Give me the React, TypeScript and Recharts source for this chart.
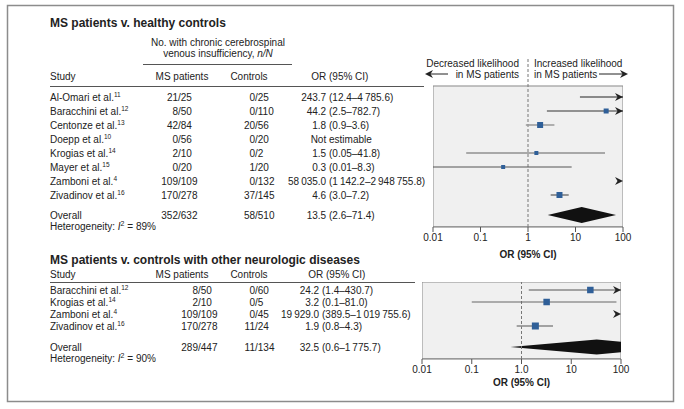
import React from "react";
import { ComposedChart, XAxis, YAxis, Scatter, Area, ReferenceLine, ReferenceArea } from "recharts";

const FONT = "'Liberation Sans', Arial, sans-serif";
const INK = "#222";

// MS patients v. healthy controls
const studiesA = ["Al-Omari", "Baracchini", "Centonze", "Doepp", "Krogias", "Mayer", "Zamboni", "Zivadinov"];
const refsA = ["11", "12", "13", "10", "14", "15", "4", "16"];
const msA = ["21/25", "8/50", "42/84", "0/56", "2/10", "0/20", "109/109", "170/278"];
const ctrlA = ["0/25", "0/110", "20/56", "0/20", "0/2", "1/20", "0/132", "37/145"];
const orTextA = [
  "243.7 (12.4–4\u2009785.6)",
  "44.2 (2.5–782.7)",
  "1.8 (0.9–3.6)",
  "Not estimable",
  "1.5 (0.05–41.8)",
  "0.3 (0.01–8.3)",
  "58\u2009035.0 (1\u2009142.2–2\u2009948\u2009755.8)",
  "4.6 (3.0–7.2)",
];
const estA = [243.7, 44.2, 1.8, null, 1.5, 0.3, 58035.0, 4.6];
const loA = [12.4, 2.5, 0.9, null, 0.05, 0.01, 1142.2, 3.0];
const hiA = [4785.6, 782.7, 3.6, null, 41.8, 8.3, 2948755.8, 7.2];
const overallA = { ms: "352/632", ctrl: "58/510", text: "13.5 (2.6–71.4)", est: 13.5, lo: 2.6, hi: 71.4, i2: "89%" };

// MS patients v. controls with other neurologic diseases
const studiesB = ["Baracchini", "Krogias", "Zamboni", "Zivadinov"];
const refsB = ["12", "14", "4", "16"];
const msB = ["8/50", "2/10", "109/109", "170/278"];
const ctrlB = ["0/60", "0/5", "0/45", "11/24"];
const orTextB = ["24.2 (1.4–430.7)", "3.2 (0.1–81.0)", "19\u2009929.0 (389.5–1\u2009019\u2009755.6)", "1.9 (0.8–4.3)"];
const estB = [24.2, 3.2, 19929.0, 1.9];
const loB = [1.4, 0.1, 389.5, 0.8];
const hiB = [430.7, 81.0, 1019755.6, 4.3];
const overallB = { ms: "289/447", ctrl: "11/134", text: "32.5 (0.6–1\u2009775.7)", est: 32.5, lo: 0.6, hi: 1775.7, i2: "90%" };

const ticks = [0.01, 0.1, 1, 10, 100];
const tickLabelsA = ["0.01", "0.1", "1", "10", "100"];
const tickLabelsB = ["0.01", "0.1", "1.0", "10", "100"];

// styles per row
const lineColorA = ["#222", "#333", "#999", "#000", "#a8a8a8", "#555", "#222", "#777"];
const lineWidthA = [1.2, 1.2, 1.5, 1, 2, 1.2, 1, 1.5];
const squareA = [5, 5, 6, 0, 4, 4, 5, 6];
const lineColorB = ["#555", "#666", "#222", "#888"];
const lineWidthB = [1.2, 1.2, 1, 1.5];
const squareB = [6.5, 6.5, 6, 7];

const XMIN = 0.01;
const XMAX = 100;

const Square = (props: any) => {
  const { cx, cy, payload } = props;
  const s = payload.size;
  return <rect x={cx - s / 2} y={cy - s / 2} width={s} height={s} fill="#2f5f98" />;
};

const ArrowHead = (props: any) => {
  const { cx, cy } = props;
  return <path d={`M${cx},${cy} L${cx - 8},${cy - 4} L${cx - 5.5},${cy} L${cx - 8},${cy + 4} Z`} fill={INK} />;
};

type ForestProps = {
  est: (number | null)[];
  lo: (number | null)[];
  hi: (number | null)[];
  overall: { est: number; lo: number; hi: number };
  sizes: number[];
  colors: string[];
  widths: number[];
  tickLabels: string[];
  width: number;
  height: number;
  margin: { top: number; right: number; bottom: number; left: number };
  axisHeight: number;
  labelOffset: number;
  yDomain: [number, number];
  boxTop: number;
  overallRow: number;
  diamondHalf: number;
};

function Forest(p: ForestProps) {
  const points = p.est
    .map((e, i) => ({ x: e, y: i, size: p.sizes[i] }))
    .filter((d) => d.x != null && (d.x as number) <= XMAX);
  const arrows = p.hi
    .map((h, i) => ({ x: h != null && h > XMAX ? XMAX : null, y: i }))
    .filter((d) => d.x != null);
  const r = p.overallRow;
  const diamond = [
    { x: p.overall.lo, range: [r, r] },
    { x: p.overall.est, range: [r - p.diamondHalf, r + p.diamondHalf] },
    { x: p.overall.hi, range: [r, r] },
  ];
  return (
    <ComposedChart width={p.width} height={p.height} margin={p.margin}>
      <XAxis
        type="number"
        dataKey="x"
        scale="log"
        domain={[XMIN, XMAX]}
        allowDataOverflow
        ticks={ticks}
        interval={0}
        tickFormatter={(v: number) => p.tickLabels[ticks.indexOf(v)]}
        tickSize={5}
        tickMargin={2}
        height={p.axisHeight}
        axisLine={{ stroke: "#777" }}
        tickLine={{ stroke: "#555" }}
        tick={{ fontSize: 10, fill: INK, fontFamily: FONT }}
        label={{
          value: "OR (95% CI)",
          position: "insideBottom",
          offset: p.labelOffset,
          style: { fontSize: 10, fontWeight: 700, fill: INK, fontFamily: FONT },
        }}
      />
      <YAxis type="number" dataKey="y" domain={p.yDomain} reversed hide allowDataOverflow />
      <ReferenceArea
        x1={XMIN}
        x2={XMAX}
        y1={p.boxTop}
        y2={p.yDomain[1]}
        fill="#f0f0f0"
        fillOpacity={1}
        stroke="#888"
        strokeWidth={1}
        ifOverflow="hidden"
      />
      <ReferenceLine x={1} stroke="#777" strokeDasharray="3 2" />
      {p.lo.map((l, i) =>
        l == null ? null : (
          <ReferenceLine
            key={i}
            segment={[
              { x: l, y: i },
              { x: p.hi[i] as number, y: i },
            ]}
            stroke={p.colors[i]}
            strokeWidth={p.widths[i]}
            ifOverflow="hidden"
          />
        )
      )}
      <Area data={diamond} dataKey="range" type="linear" fill="#111" fillOpacity={1} stroke="none" isAnimationActive={false} />
      <Scatter data={points} shape={Square} isAnimationActive={false} />
      <Scatter data={arrows} shape={ArrowHead} isAnimationActive={false} />
    </ComposedChart>
  );
}

function splitOr(s: string): [string, string] {
  const k = s.indexOf(" (");
  if (k >= 0) return [s.slice(0, k), s.slice(k + 1)];
  const j = s.indexOf(" ");
  return [s.slice(0, j), s.slice(j + 1)];
}

type Cols = { name: number; ms: number; ctrl: number; paren: number };

function Frac({ v, x, y }: { v: string; x: number; y: number }) {
  const k = v.indexOf("/");
  return (
    <>
      <text x={x} y={y} textAnchor="end">{v.slice(0, k)}</text>
      <text x={x} y={y}>{v.slice(k)}</text>
    </>
  );
}

function OrCell({ v, x, y }: { v: string; x: number; y: number }) {
  const [a, b] = splitOr(v);
  return (
    <>
      <text x={x - 2.8} y={y} textAnchor="end">{a}</text>
      <text x={x} y={y}>{b}</text>
    </>
  );
}

function TableRows(props: {
  names: string[];
  refs: string[];
  ms: string[];
  ctrl: string[];
  or: string[];
  y0: number;
  step: number;
  cols: Cols;
}) {
  const { cols } = props;
  return (
    <>
      {props.names.map((n, i) => {
        const y = props.y0 + i * props.step;
        return (
          <g key={n + i}>
            <text x={cols.name} y={y}>
              {n} et al.
              <tspan dy={-3.5} fontSize={6.5}>{props.refs[i]}</tspan>
            </text>
            <Frac v={props.ms[i]} x={cols.ms} y={y} />
            <Frac v={props.ctrl[i]} x={cols.ctrl} y={y} />
            <OrCell v={props.or[i]} x={cols.paren} y={y} />
          </g>
        );
      })}
    </>
  );
}

function Heterogeneity({ x, y, v }: { x: number; y: number; v: string }) {
  return (
    <text x={x} y={y}>
      Heterogeneity: <tspan fontStyle="italic">I</tspan>
      <tspan dy={-3} fontSize={7}>2</tspan>
      <tspan dy={3}> = {v}</tspan>
    </text>
  );
}

export default function App() {
  const colsA: Cols = { name: 50, ms: 178, ctrl: 255, paren: 329 };
  const colsB: Cols = { name: 50, ms: 198, ctrl: 255, paren: 322 };
  return (
    <div style={{ position: "absolute", left: 0, top: 0, width: 684, height: 409, background: "#fff", fontFamily: FONT }}>
      <svg width={684} height={409} style={{ position: "absolute", left: 0, top: 0 }}>
        <rect x={7.5} y={5.5} width={666} height={396} fill="none" stroke="#8c8c8c" strokeWidth={1.5} />
        <g fontFamily={FONT} fontSize={10} fill={INK} dominantBaseline="central">
          {/* panel A */}
          <text x={50} y={23} fontSize={12} fontWeight={700}>MS patients v. healthy controls</text>
          <text x={218} y={42} textAnchor="middle">No. with chronic cerebrospinal</text>
          <text x={218} y={53} textAnchor="middle">
            venous insufficiency, <tspan fontStyle="italic">n/N</tspan>
          </text>
          <line x1={143} x2={292} y1={64.5} y2={64.5} stroke="#555" />
          <text x={50} y={76}>Study</text>
          <text x={182} y={76} textAnchor="middle">MS patients</text>
          <text x={249} y={76} textAnchor="middle">Controls</text>
          <OrCell v="OR (95% CI)" x={329} y={76} />
          <line x1={50} x2={424} y1={86.5} y2={86.5} stroke="#555" />
          <text x={519} y={63} textAnchor="end">Decreased likelihood</text>
          <text x={519} y={74} textAnchor="end">in MS patients</text>
          <line x1={428} x2={448} y1={74} y2={74} stroke={INK} />
          <path d="M425,74 L433,70 L430.5,74 L433,78 Z" fill={INK} />
          <text x={534} y={63}>Increased likelihood</text>
          <text x={534} y={74}>in MS patients</text>
          <line x1={599} x2={625} y1={74} y2={74} stroke={INK} />
          <path d="M628,74 L620,70 L622.5,74 L620,78 Z" fill={INK} />
          <TableRows names={studiesA} refs={refsA} ms={msA} ctrl={ctrlA} or={orTextA} y0={97} step={14} cols={colsA} />
          <text x={50} y={215}>Overall</text>
          <Frac v={overallA.ms} x={colsA.ms} y={215} />
          <Frac v={overallA.ctrl} x={colsA.ctrl} y={215} />
          <OrCell v={overallA.text} x={colsA.paren} y={215} />
          <Heterogeneity x={50} y={226} v={overallA.i2} />

          {/* panel B */}
          <text x={50} y={260} fontSize={12} fontWeight={700}>MS patients v. controls with other neurologic diseases</text>
          <text x={50} y={274}>Study</text>
          <text x={182} y={274} textAnchor="middle">MS patients</text>
          <text x={249} y={274} textAnchor="middle">Controls</text>
          <OrCell v="OR (95% CI)" x={326} y={274} />
          <line x1={50} x2={415} y1={282.5} y2={282.5} stroke="#555" />
          <TableRows names={studiesB} refs={refsB} ms={msB} ctrl={ctrlB} or={orTextB} y0={290} step={12} cols={colsB} />
          <text x={50} y={347}>Overall</text>
          <Frac v={overallB.ms} x={colsB.ms} y={347} />
          <Frac v={overallB.ctrl} x={colsB.ctrl} y={347} />
          <OrCell v={overallB.text} x={colsB.paren} y={347} />
          <Heterogeneity x={50} y={358} v={overallB.i2} />
        </g>
      </svg>

      <div style={{ position: "absolute", left: 413, top: 47 }}>
        <Forest
          est={estA}
          lo={loA}
          hi={hiA}
          overall={overallA}
          sizes={squareA}
          colors={lineColorA}
          widths={lineWidthA}
          tickLabels={tickLabelsA}
          width={230}
          height={220}
          margin={{ top: 10, right: 20, bottom: 0, left: 20 }}
          axisHeight={40}
          labelOffset={9.5}
          yDomain={[-2.857, 9.286]}
          boxTop={-0.786}
          overallRow={8.43}
          diamondHalf={0.57}
        />
      </div>
      <div style={{ position: "absolute", left: 402, top: 272 }}>
        <Forest
          est={estB}
          lo={loB}
          hi={hiB}
          overall={overallB}
          sizes={squareB}
          colors={lineColorB}
          widths={lineWidthB}
          tickLabels={tickLabelsB}
          width={240}
          height={130}
          margin={{ top: 10, right: 21, bottom: 0, left: 20 }}
          axisHeight={43}
          labelOffset={16.5}
          yDomain={[-0.667, 5.75]}
          boxTop={-0.667}
          overallRow={4.75}
          diamondHalf={0.62}
        />
      </div>
    </div>
  );
}
